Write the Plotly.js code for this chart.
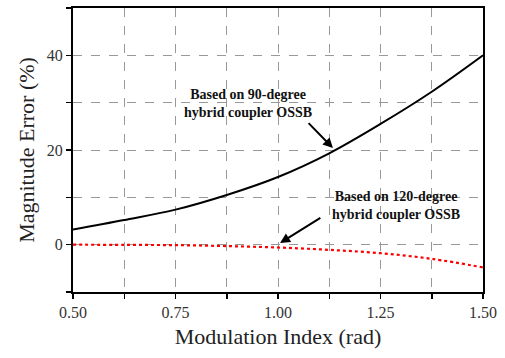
<!DOCTYPE html>
<html><head><meta charset="utf-8">
<script src="https://cdn.plot.ly/plotly-3.0.1.min.js"></script>
<style>html,body{margin:0;padding:0;background:#fff}</style>
</head><body><div id="chart" style="width:505px;height:358px"></div>
<script>
const modIndex = [0.5, 0.625, 0.75, 0.875, 1.0, 1.125, 1.25, 1.375, 1.5];
const err90 = [3.2, 5.2, 7.4, 10.5, 14.3, 19.3, 25.5, 32.3, 40.0];
const err120 = [0.0, -0.05, -0.1, -0.3, -0.6, -1.1, -1.8, -3.0, -4.8];
const xTickVals = [0.5, 0.625, 0.75, 0.875, 1.0, 1.125, 1.25, 1.375, 1.5];
const xTickText = ['0.50', '', '0.75', '', '1.00', '', '1.25', '', '1.50'];
const yTickVals = [-10, 0, 10, 20, 30, 40, 50];
const yTickText = ['', '0', '', '20', '', '40', ''];
const label90 = '<b>Based on 90-degree<br>hybrid coupler OSSB</b>';
const label120 = '<b>Based on 120-degree<br>hybrid coupler OSSB</b>';

const font = 'Liberation Serif, Times New Roman, serif';
const traces = [
  {x: modIndex, y: err90, mode: 'lines', line: {color: '#000', width: 2, shape: 'spline'}, showlegend: false},
  {x: modIndex, y: err120, mode: 'lines', line: {color: '#ff0000', width: 2.2, dash: 'dot', shape: 'spline'}, showlegend: false}
];
const axisCommon = {
  showline: true, linecolor: '#000', linewidth: 2, mirror: true,
  ticks: 'outside', ticklen: 5, tickwidth: 1.5, tickcolor: '#000',
  showgrid: true, gridcolor: '#999', gridwidth: 1, griddash: 'dash',
  zeroline: false, tickmode: 'array',
  tickfont: {family: font, size: 16, color: '#333'}
};
const annFont = {family: font, size: 14, color: '#111'};
const layout = {
  width: 505, height: 358,
  margin: {l: 73, r: 22, t: 8, b: 66},
  paper_bgcolor: '#fff', plot_bgcolor: '#fff',
  xaxis: Object.assign({}, axisCommon, {
    range: [0.5, 1.5], tickvals: xTickVals, ticktext: xTickText,
    title: {text: 'Modulation Index (rad)', font: {family: font, size: 22, color: '#222'}, standoff: 8}
  }),
  yaxis: Object.assign({}, axisCommon, {
    range: [-10, 50], tickvals: yTickVals, ticktext: yTickText,
    title: {text: 'Magnitude Error (%)', font: {family: font, size: 22, color: '#222'}, standoff: 6}
  }),
  annotations: [
    {x: 0.927, y: 29.8, text: label90, showarrow: false, font: annFont},
    {x: 1.134, y: 20.4, ax: 1.071, ay: 26.0, axref: 'x', ayref: 'y', text: '',
     showarrow: true, arrowhead: 2, arrowsize: 1, arrowwidth: 2, arrowcolor: '#000'},
    {x: 1.289, y: 8.3, text: label120, showarrow: false, font: annFont},
    {x: 1.005, y: 0.36, ax: 1.107, ay: 5.85, axref: 'x', ayref: 'y', text: '',
     showarrow: true, arrowhead: 2, arrowsize: 1, arrowwidth: 2, arrowcolor: '#000'}
  ]
};
Plotly.newPlot('chart', traces, layout, {displayModeBar: false, staticPlot: true});
</script></body></html>
